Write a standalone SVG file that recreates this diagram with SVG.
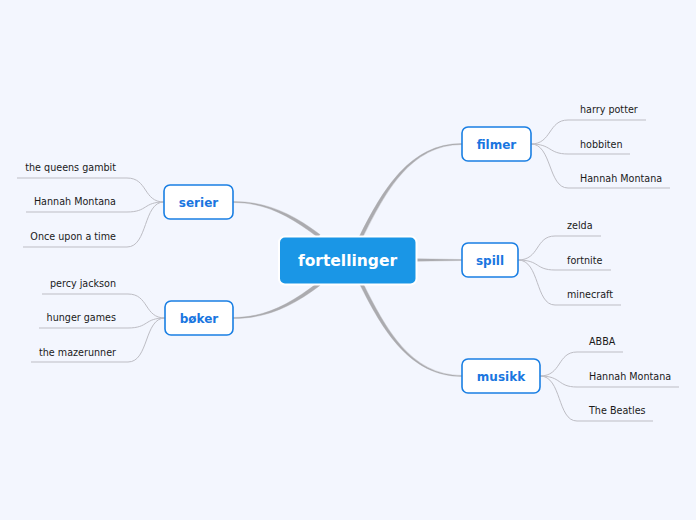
<svg xmlns="http://www.w3.org/2000/svg" width="696" height="520" viewBox="0 0 696 520">
<style>
.main{fill:#ababaf;stroke:#ababaf;stroke-width:0.4;stroke-linejoin:round}
.leaf{fill:none;stroke:#bdbdc4;stroke-width:1}
.box{fill:#ffffff;stroke:#1a7fe3;stroke-width:1.6}
.nt{font-family:"DejaVu Sans",Verdana,sans-serif;font-weight:bold;font-size:12px;fill:#1a76e0;text-anchor:middle}
.lt{font-family:"DejaVu Sans",Verdana,sans-serif;font-size:9.6px;fill:#1a1a1a}
.r{text-anchor:end}
</style>
<rect width="696" height="520" fill="#f3f6fe"/>
<g id="connectors">
<path class="main" d="M359.5 236.2 C382.5 190.2 409.5 143.5 462 143.5 L462 144.5 C410.5 144.5 385.5 191.8 362.5 237.8 Z"/>
<path class="main" d="M416 258.8 L462 259.5 L462 260.5 L416 261.2 Z"/>
<path class="main" d="M359.5 283.8 C382.5 329.8 409.5 376.5 462 376.5 L462 375.5 C410.5 375.5 385.5 328.2 362.5 282.2 Z"/>
<path class="main" d="M320 234.6 C291 212.6 265 201.5 233 201.5 L233 202.5 C265 202.5 289 215.4 318 237.4 Z"/>
<path class="main" d="M320 285.4 C291 307.4 265 318.5 233 318.5 L233 317.5 C265 317.5 289 304.6 318 282.6 Z"/>
<path class="leaf" d="M531 144 C552 144 548 120 568 120 L646 120"/>
<path class="leaf" d="M531 144 C552 144 548 154 568 154 L630 154"/>
<path class="leaf" d="M531 144 C552 144 548 188 568 188 L670 188"/>
<path class="leaf" d="M518 260 C540 260 535 236 555 236 L601 236"/>
<path class="leaf" d="M518 260 C540 260 535 270 555 270 L611 270"/>
<path class="leaf" d="M518 260 C540 260 535 305 555 305 L621 305"/>
<path class="leaf" d="M540 376 C562 376 557 352 577 352 L623 352"/>
<path class="leaf" d="M540 376 C562 376 557 387 577 387 L679 387"/>
<path class="leaf" d="M540 376 C562 376 557 421 577 421 L653 421"/>
<path class="leaf" d="M164 202 C143 202 148 178 127 178 L17 178"/>
<path class="leaf" d="M164 202 C143 202 148 212 127 212 L26 212"/>
<path class="leaf" d="M164 202 C143 202 148 247 127 247 L23 247"/>
<path class="leaf" d="M165 318 C144 318 149 294 128 294 L42 294"/>
<path class="leaf" d="M165 318 C144 318 149 328 128 328 L39 328"/>
<path class="leaf" d="M165 318 C144 318 149 362 128 362 L31 362"/>
</g>
<g id="center">
<rect x="279" y="236.5" width="137.5" height="48" rx="6" fill="#1a96e6" stroke="#ffffff" stroke-width="2"/>
<text x="347.5" y="266" font-family="DejaVu Sans,Verdana,sans-serif" font-weight="bold" font-size="15.5px" fill="#ffffff" text-anchor="middle">fortellinger</text>
</g>
<g id="filmer">
<rect class="box" x="462" y="127" width="69" height="34" rx="6"/>
<text class="nt" x="496.5" y="148.5">filmer</text>
</g>
<g id="spill">
<rect class="box" x="462" y="243" width="56" height="34" rx="6"/>
<text class="nt" x="490" y="264.5">spill</text>
</g>
<g id="musikk">
<rect class="box" x="462" y="359" width="78" height="34" rx="6"/>
<text class="nt" x="501" y="380.5">musikk</text>
</g>
<g id="serier">
<rect class="box" x="164" y="185" width="69" height="34" rx="6"/>
<text class="nt" x="198.5" y="206.5">serier</text>
</g>
<g id="boker">
<rect class="box" x="165" y="301" width="68" height="34" rx="6"/>
<text class="nt" x="199" y="322.5">bøker</text>
</g>
<g id="leaves">
<text class="lt" x="580" y="113">harry potter</text>
<text class="lt" x="580" y="148">hobbiten</text>
<text class="lt" x="580" y="182">Hannah Montana</text>
<text class="lt" x="567" y="229">zelda</text>
<text class="lt" x="567" y="264">fortnite</text>
<text class="lt" x="567" y="298">minecraft</text>
<text class="lt" x="589" y="345">ABBA</text>
<text class="lt" x="589" y="380">Hannah Montana</text>
<text class="lt" x="589" y="414">The Beatles</text>
<text class="lt r" x="116" y="171">the queens gambit</text>
<text class="lt r" x="116" y="205">Hannah Montana</text>
<text class="lt r" x="116" y="240">Once upon a time</text>
<text class="lt r" x="116" y="287">percy jackson</text>
<text class="lt r" x="116" y="321">hunger games</text>
<text class="lt r" x="116" y="356">the mazerunner</text>
</g>
</svg>
